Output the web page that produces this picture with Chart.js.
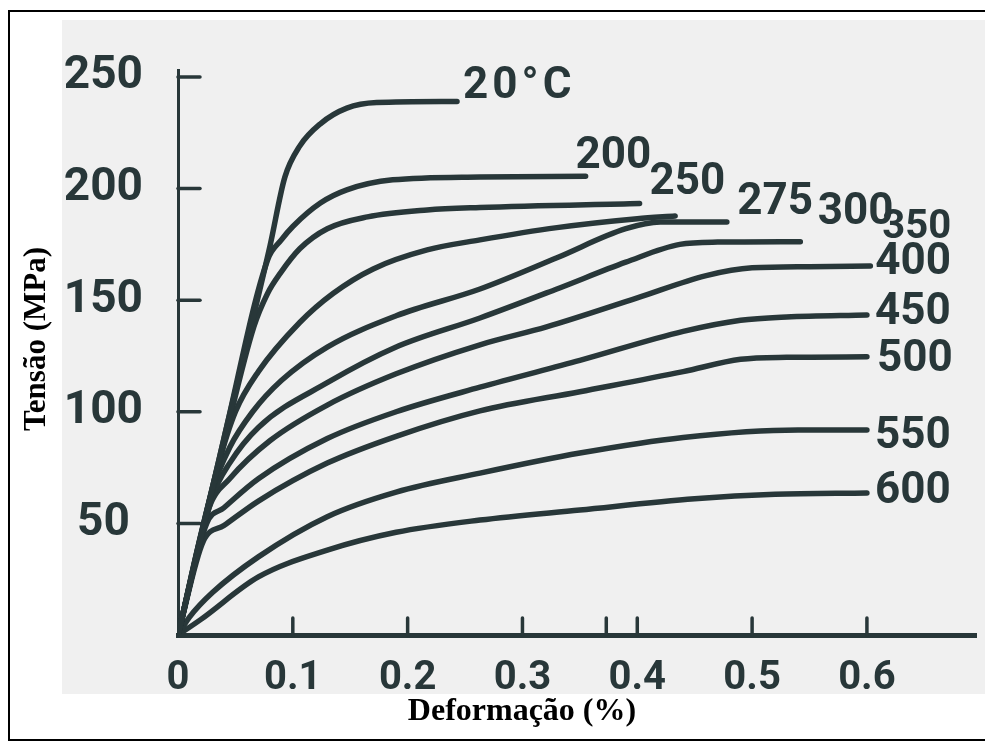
<!DOCTYPE html>
<html lang="pt">
<head>
<meta charset="utf-8">
<title>Tensão x Deformação</title>
<script src="https://cdn.jsdelivr.net/npm/chart.js@4.4.1/dist/chart.umd.min.js"></script>
<style>
  html, body { margin: 0; padding: 0; background: #fff; }
  #wrap { width: 985px; height: 744px; }
</style>
</head>
<body>
<div id="wrap"><canvas id="chart" width="985" height="744"></canvas></div>
<script>
// ── Dados (deformação em %, tensão em MPa) ──────────────────────────────────

const curveLabels = ['20°C', '200', '250', '275', '300', '350', '400', '450', '500', '550', '600'];

const curve20  = [[0, 0], [0.04, 88], [0.080, 174], [0.093, 205], [0.106, 219], [0.124, 229], [0.147, 236], [0.173, 238.5], [0.243, 239]];
const curve200 = [[0, 0], [0.04, 88], [0.078, 168], [0.090, 177], [0.100, 183], [0.124, 193.5], [0.147, 199.4], [0.187, 203.9], [0.263, 205.2], [0.355, 205.5]];
const curve250 = [[0, 0], [0.04, 86], [0.066, 138], [0.078, 153], [0.089, 162], [0.106, 173], [0.130, 182], [0.165, 187.3], [0.217, 190.4], [0.263, 191.5], [0.402, 193.3]];
const curve275 = [[0, 0], [0.035, 76], [0.05, 100], [0.07, 118], [0.106, 140], [0.135, 153], [0.170, 164], [0.217, 172.5], [0.263, 177], [0.33, 182.5], [0.40, 186.5], [0.433, 187.7]];
const curve300 = [[0, 0], [0.03, 65], [0.045, 84], [0.065, 100], [0.09, 114], [0.13, 129], [0.19, 143], [0.263, 155], [0.33, 169], [0.39, 182], [0.42, 185], [0.478, 185]];
const curve350 = [[0, 0], [0.03, 62], [0.045, 77], [0.07, 93], [0.13, 113], [0.19, 129], [0.263, 142], [0.33, 155], [0.39, 167], [0.437, 175], [0.47, 176], [0.542, 176.2]];
const curve400 = [[0, 0], [0.027, 57], [0.045, 70], [0.08, 87], [0.13, 103], [0.19, 117], [0.263, 130], [0.321, 138], [0.40, 151], [0.46, 161], [0.50, 164.5], [0.55, 165], [0.603, 165.3]];
const curve450 = [[0, 0], [0.025, 50], [0.04, 57], [0.07, 70], [0.13, 88], [0.19, 100], [0.263, 111], [0.35, 123], [0.44, 136], [0.49, 141], [0.53, 142.5], [0.600, 143.4]];
const curve500 = [[0, 0], [0.022, 42], [0.04, 49], [0.07, 60], [0.13, 77], [0.19, 89], [0.263, 100.4], [0.35, 109], [0.44, 118], [0.49, 123.5], [0.53, 124.4], [0.600, 124.6]];
const curve550 = [[0, 0], [0.01, 8], [0.03, 19], [0.07, 35], [0.13, 53], [0.19, 64], [0.263, 72.5], [0.35, 81.5], [0.44, 88.5], [0.54, 91.8], [0.600, 91.8]];
const curve600 = [[0, 0], [0.02, 7], [0.07, 26], [0.13, 38], [0.19, 46], [0.263, 51.5], [0.35, 56], [0.45, 61], [0.52, 63], [0.600, 63.6]];

const curves = [curve20, curve200, curve250, curve275, curve300, curve350, curve400, curve450, curve500, curve550, curve600];

// Marcas do eixo x (0.373 = marca extra sem rótulo, como no original)
const xTickValues = [0, 0.1, 0.2, 0.3, 0.373, 0.4, 0.5, 0.6];
const xTickLabels = ['0', '0.1', '0.2', '0.3', '', '0.4', '0.5', '0.6'];
const yTickValues = [50, 100, 150, 200, 250];

const xTitle = 'Deformação (%)';
const yTitle = 'Tensão (MPa)';

// ── Estilo ──────────────────────────────────────────────────────────────────

const INK = '#283739';
const PAPER = '#f0f0f0';
const NUM_FONT = 'Roboto, "DejaVu Sans", sans-serif';
const TITLE_FONT = '"Liberation Serif", "Times New Roman", serif';

// deslocamento (px) do rótulo em relação ao fim de cada curva
const labelOffsets = [[6, -14], [-10, -19], [10, -20], [62, -13], [91, -9], [82, -14], [5, -3], [8, -2], [10, 3], [8, 7], [8, -1]];

// ── Plugins ─────────────────────────────────────────────────────────────────

const paperPlugin = {
  id: 'paper',
  beforeDraw(chart) {
    const ctx = chart.ctx;
    ctx.save();
    ctx.fillStyle = '#ffffff';
    ctx.fillRect(0, 0, chart.width, chart.height);
    ctx.strokeStyle = '#000';
    ctx.lineWidth = 2;
    ctx.strokeRect(9, 11, 990, 729);
    ctx.fillStyle = PAPER;
    ctx.fillRect(62, 20, chart.width - 62, 674);
    ctx.restore();
  }
};

// marcas voltadas para dentro do gráfico
const innerTicksPlugin = {
  id: 'innerTicks',
  afterDatasetsDraw(chart) {
    const { ctx, scales: { x, y } } = chart;
    ctx.save();
    ctx.strokeStyle = INK;
    ctx.lineWidth = 3.5;
    ctx.lineCap = 'round';
    xTickValues.forEach(v => {
      if (v === 0) return;
      const px = x.getPixelForValue(v);
      ctx.beginPath();
      ctx.moveTo(px, y.bottom);
      ctx.lineTo(px, y.bottom - 17);
      ctx.stroke();
    });
    yTickValues.forEach(v => {
      const py = y.getPixelForValue(v);
      ctx.beginPath();
      ctx.moveTo(x.left, py);
      ctx.lineTo(x.left + 22, py);
      ctx.stroke();
    });
    ctx.restore();
  }
};

const curveLabelPlugin = {
  id: 'curveLabels',
  afterDatasetsDraw(chart) {
    const ctx = chart.ctx;
    ctx.save();
    ctx.fillStyle = INK;
    ctx.textAlign = 'left';
    ctx.textBaseline = 'middle';
    chart.data.datasets.forEach((ds, i) => {
      const meta = chart.getDatasetMeta(i);
      const last = meta.data[meta.data.length - 1];
      const [dx, dy] = labelOffsets[i];
      ctx.font = `bold ${i === 5 ? 40 : 44}px ${NUM_FONT}`;
      ctx.letterSpacing = i === 0 ? '4px' : '0px';
      ctx.fillText(ds.label, last.x + dx, last.y + dy);
    });
    ctx.restore();
  }
};

const axisTitlePlugin = {
  id: 'axisTitles',
  afterDraw(chart) {
    const ctx = chart.ctx;
    ctx.save();
    ctx.fillStyle = '#000';
    ctx.textAlign = 'center';
    ctx.textBaseline = 'middle';
    ctx.font = `bold 32px ${TITLE_FONT}`;
    ctx.fillText(xTitle, 522, 712);
    ctx.font = `bold 31px ${TITLE_FONT}`;
    ctx.translate(37, 339);
    ctx.rotate(-Math.PI / 2);
    ctx.fillText(yTitle, 0, 0);
    ctx.restore();
  }
};

// ── Gráfico ─────────────────────────────────────────────────────────────────

const datasets = curves.map((pts, i) => ({
  label: curveLabels[i],
  data: pts.map(([x, y]) => ({ x, y })),
  borderColor: INK,
  borderWidth: 5.5,
  borderCapStyle: 'round',
  borderJoinStyle: 'round',
  pointRadius: 0,
  showLine: true,
  fill: false,
  cubicInterpolationMode: 'monotone'
}));

new Chart(document.getElementById('chart'), {
  type: 'scatter',
  data: { datasets },
  options: {
    responsive: false,
    animation: false,
    devicePixelRatio: 1,
    layout: { padding: { top: 70, right: 9, bottom: 0, left: 0 } },
    plugins: {
      legend: { display: false },
      tooltip: { enabled: false }
    },
    scales: {
      x: {
        type: 'linear',
        min: 0,
        max: 0.695,
        afterBuildTicks: (scale) => { scale.ticks = xTickValues.map(v => ({ value: v })); },
        afterFit: (scale) => { scale.height = 109; },
        grid: { display: false, drawTicks: false },
        border: { display: true, color: INK, width: 5 },
        ticks: {
          autoSkip: false,
          maxRotation: 0,
          padding: 20,
          color: INK,
          font: { family: NUM_FONT, size: 40, weight: 'bold' },
          callback: (v, i) => xTickLabels[i]
        },
        title: { display: false, text: xTitle }
      },
      y: {
        type: 'linear',
        min: 0,
        max: 253.1,
        afterBuildTicks: (scale) => { scale.ticks = yTickValues.map(v => ({ value: v })); },
        afterFit: (scale) => { scale.width = 178; },
        grid: { display: false, drawTicks: false },
        border: { display: true, color: INK, width: 3 },
        ticks: {
          crossAlign: 'center',
          padding: 35,
          color: INK,
          font: { family: NUM_FONT, size: 46, weight: 'bold' }
        },
        title: { display: false, text: yTitle }
      }
    }
  },
  plugins: [paperPlugin, innerTicksPlugin, curveLabelPlugin, axisTitlePlugin]
});
</script>
</body>
</html>
